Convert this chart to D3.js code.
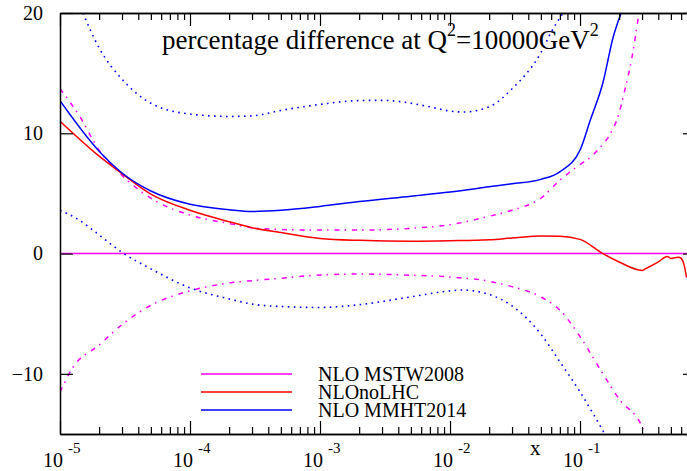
<!DOCTYPE html>
<html>
<head>
<meta charset="utf-8">
<script src="https://cdn.jsdelivr.net/npm/d3@7"></script>
<style>
  body { margin: 0; background: #fff; }
  #chart { width: 687px; height: 471px; }
</style>
</head>
<body>
<div id="chart"></div>
<script>
/*
    DATA
*/
const mstwX = [1e-5, 0.78];
const mstwY = [0, 0];

const mstwUpX = [1e-5, 1.4e-5, 2e-5, 3e-5, 5e-5, 1e-4, 2e-4, 3e-4, 5e-4, 1e-3, 2e-3, 5e-3, 1e-2, 2e-2, 3e-2, 5e-2, 7e-2, 0.1, 0.12, 0.15, 0.17, 0.2, 0.22, 0.25, 0.284];
const mstwUpY = [13.7, 11.5, 8.6, 6.5, 4.6, 3.2, 2.5, 2.15, 2.0, 1.95, 1.95, 2.1, 2.4, 3.1, 3.6, 4.6, 6.1, 7.4, 8.0, 9.1, 9.9, 11.7, 13.5, 16.2, 20];

const mstwLoX = [1e-5, 1.25e-5, 2e-5, 3e-5, 5e-5, 1e-4, 2e-4, 3e-4, 5e-4, 1e-3, 2e-3, 5e-3, 1e-2, 2e-2, 3e-2, 5e-2, 7e-2, 0.1, 0.15, 0.2, 0.3, 0.316];
const mstwLoY = [-11.5, -9.5, -7.6, -5.9, -4.3, -3.1, -2.45, -2.25, -2.05, -1.78, -1.7, -1.8, -1.95, -2.3, -2.75, -3.6, -4.7, -6.9, -10.0, -12.1, -14.4, -15];

const noLhcX = [1e-5, 2e-5, 3e-5, 5e-5, 1e-4, 2e-4, 3e-4, 5e-4, 1e-3, 2e-3, 5e-3, 1e-2, 2e-2, 3e-2, 5e-2, 7e-2, 0.1, 0.15, 0.2, 0.3, 0.32, 0.4, 0.45, 0.47, 0.5, 0.57, 0.6, 0.63, 0.66];
const noLhcY = [11.0, 8.1, 6.65, 4.95, 3.6, 2.65, 2.15, 1.75, 1.26, 1.1, 1.03, 1.07, 1.15, 1.3, 1.47, 1.45, 1.18, 0.0, -0.7, -1.4, -1.25, -0.7, -0.3, -0.25, -0.4, -0.3, -0.4, -0.9, -2.0];

const mmhtX = [1e-5, 2e-5, 3e-5, 5e-5, 1e-4, 2e-4, 3e-4, 5e-4, 1e-3, 2e-3, 5e-3, 1e-2, 2e-2, 3e-2, 5e-2, 7e-2, 0.1, 0.12, 0.15, 0.18, 0.207];
const mmhtY = [12.7, 8.5, 6.7, 5.2, 4.1, 3.65, 3.5, 3.6, 3.92, 4.32, 4.77, 5.12, 5.55, 5.8, 6.17, 6.8, 8.6, 11.1, 14.2, 18.0, 20];

const mmhtUpX = [1.5e-5, 2e-5, 3e-5, 5e-5, 1e-4, 2e-4, 3e-4, 5e-4, 1e-3, 2e-3, 3e-3, 4e-3, 7e-3, 1e-2, 1.25e-2, 2e-2, 3e-2, 5e-2, 6e-2, 0.074];
const mmhtUpY = [20, 17.1, 14.5, 12.5, 11.6, 11.4, 11.45, 11.9, 12.4, 12.72, 12.74, 12.65, 12.2, 11.85, 11.77, 12.2, 13.7, 16.7, 18.4, 20];

const mmhtLoX = [1e-5, 1.4e-5, 2e-5, 3e-5, 5e-5, 1e-4, 2e-4, 3e-4, 5e-4, 1e-3, 2e-3, 5e-3, 1e-2, 1.25e-2, 2e-2, 3e-2, 5e-2, 7e-2, 0.1, 0.155];
const mmhtLoY = [3.6, 2.8, 1.55, 0.1, -1.27, -2.85, -3.77, -4.2, -4.4, -4.48, -4.25, -3.6, -3.1, -3.03, -3.4, -4.35, -6.7, -9.0, -11.5, -15];

const yTicks = [-10, 0, 10, 20];
const xMajor = [1e-5, 1e-4, 1e-3, 1e-2, 1e-1];
const xExp = ["-5", "-4", "-3", "-2", "-1"];

const legendNames = ["NLO MSTW2008", "NLOnoLHC", "NLO MMHT2014"];
const legendColors = ["#ff00ff", "#ff0000", "#0000ff"];

const serif = '"Liberation Serif", "Times New Roman", serif';

/*
    SETTING UP THE SVG CANVAS
*/
const width = 687;
const height = 471;
const margin = {top: 13, left: 60, right: 696, bottom: 434};

const canvas = d3.select("#chart")
    .append("svg")
    .attr("width", width)
    .attr("height", height);

/*
    SCALES
*/
const xScale = d3.scaleLog()
    .domain([1e-5, 0.78])
    .range([margin.left, margin.right]);

const yScale = d3.scaleLinear()
    .domain([-15, 20])
    .range([margin.bottom, margin.top]);

let xMinor = [];
for (let e = -5; e <= -1; e++) {
    for (let m = 2; m <= 9; m++) {
        const v = m * Math.pow(10, e);
        if (v < 0.78) xMinor.push(v);
    }
}

canvas.append("clipPath")
    .attr("id", "plotClip")
    .append("rect")
    .attr("x", margin.left)
    .attr("y", margin.top)
    .attr("width", margin.right - margin.left)
    .attr("height", margin.bottom - margin.top);

/*
    DRAW CURVES
*/
const line = d3.line()
    .x(d => xScale(d[0]))
    .y(d => yScale(d[1]))
    .curve(d3.curveMonotoneX);

const plot = canvas.append("g").attr("clip-path", "url(#plotClip)");

function drawSeries(xs, ys, color, dash, w) {
    plot.append("path")
        .datum(d3.zip(xs, ys))
        .attr("d", line)
        .attr("fill", "none")
        .attr("stroke", color)
        .attr("stroke-width", w)
        .attr("stroke-dasharray", dash);
}

drawSeries(mstwX, mstwY, "#ff00ff", null, 1.5);
drawSeries(mstwUpX, mstwUpY, "#ff00ff", "5,5,1.5,6", 1.5);
drawSeries(mstwLoX, mstwLoY, "#ff00ff", "5,5,1.5,6", 1.5);
drawSeries(mmhtUpX, mmhtUpY, "#0000ff", "1.6,4.4", 1.6);
drawSeries(mmhtLoX, mmhtLoY, "#0000ff", "1.6,4.4", 1.6);
drawSeries(noLhcX, noLhcY, "#ff0000", null, 1.5);
drawSeries(mmhtX, mmhtY, "#0000ff", null, 1.5);

/*
    AXES
*/
function styleAxis(g) {
    g.selectAll("path").attr("stroke", "#000").attr("stroke-width", 1.5);
    g.selectAll("line").attr("stroke", "#000").attr("stroke-width", 1.2);
}

canvas.append("g")
    .attr("transform", `translate(0,${margin.bottom})`)
    .call(d3.axisBottom(xScale).tickValues(xMinor).tickSize(-7).tickSizeOuter(0).tickFormat(""))
    .call(styleAxis);
canvas.append("g")
    .attr("transform", `translate(0,${margin.bottom})`)
    .call(d3.axisBottom(xScale).tickValues(xMajor).tickSize(-13).tickSizeOuter(0).tickFormat(""))
    .call(styleAxis);
canvas.append("g")
    .attr("transform", `translate(0,${margin.top})`)
    .call(d3.axisTop(xScale).tickValues(xMinor).tickSize(-7).tickSizeOuter(0).tickFormat(""))
    .call(styleAxis);
canvas.append("g")
    .attr("transform", `translate(0,${margin.top})`)
    .call(d3.axisTop(xScale).tickValues(xMajor).tickSize(-13).tickSizeOuter(0).tickFormat(""))
    .call(styleAxis);

const yAxis = canvas.append("g")
    .attr("transform", `translate(${margin.left},0)`)
    .call(d3.axisLeft(yScale).tickValues(yTicks).tickSize(-13).tickSizeOuter(0).tickPadding(17))
    .call(styleAxis);
yAxis.selectAll("text")
    .style("font-family", serif)
    .style("font-size", "20px")
    .attr("fill", "#000");

canvas.append("g")
    .attr("transform", `translate(${margin.right},0)`)
    .call(d3.axisRight(yScale).tickValues(yTicks).tickSize(-13).tickSizeOuter(0).tickFormat(""))
    .call(styleAxis);

/*
    X TICK LABELS  10^n
*/
const xLabels = canvas.append("g").style("font-family", serif);
xMajor.forEach(function(v, i) {
    const px = xScale(v);
    xLabels.append("text")
        .attr("x", px + 3)
        .attr("y", 467)
        .attr("text-anchor", "end")
        .style("font-size", "20px")
        .text("10");
    xLabels.append("text")
        .attr("x", px + 8)
        .attr("y", 453)
        .style("font-size", "15px")
        .text(xExp[i]);
});

canvas.append("text")
    .attr("x", 530)
    .attr("y", 455)
    .style("font-family", serif)
    .style("font-size", "21px")
    .text("x");

/*
    TITLE
*/
const title = canvas.append("text")
    .attr("x", 162)
    .attr("y", 49)
    .style("font-family", serif)
    .style("font-size", "27px");
title.append("tspan").text("percentage difference at Q");
title.append("tspan").attr("dy", -13).style("font-size", "18px").text("2");
title.append("tspan").attr("dy", 13).text("=10000GeV");
title.append("tspan").attr("dy", -13).style("font-size", "18px").text("2");

/*
    LEGEND
*/
const legend = canvas.append("g").style("font-family", serif);
legendNames.forEach(function(name, i) {
    const ly = 374 + i * 18;
    legend.append("line")
        .attr("x1", 201).attr("x2", 292)
        .attr("y1", ly).attr("y2", ly)
        .attr("stroke", legendColors[i])
        .attr("stroke-width", 1.5);
    legend.append("text")
        .attr("x", 318)
        .attr("y", ly + 7)
        .style("font-size", "20px")
        .text(name);
});
</script>
</body>
</html>
